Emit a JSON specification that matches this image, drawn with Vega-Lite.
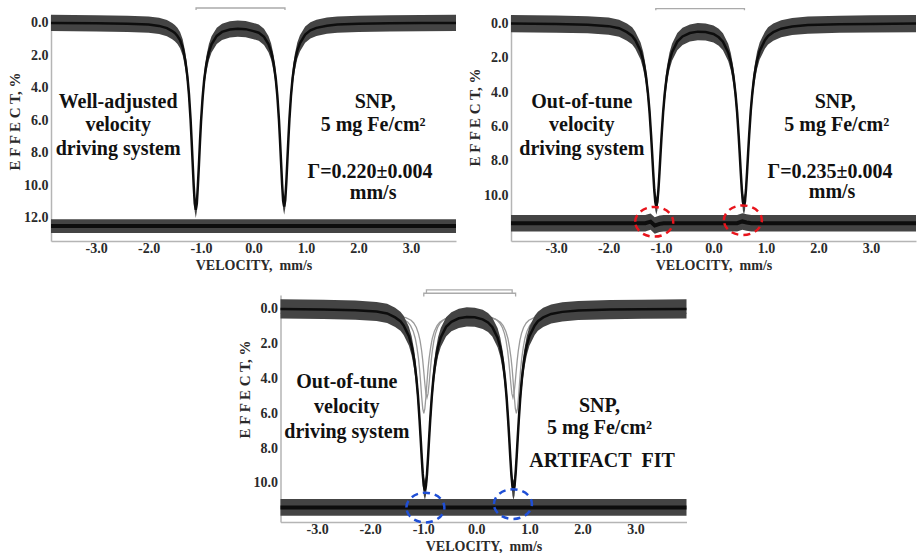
{
"$schema": "https://vega.github.io/schema/vega-lite/v6.json",
"padding": {"left": 7, "top": 5, "right": 0, "bottom": 0},
"background": "white",
"center": true,
"spacing": 15,
"config": {
 "view": {"stroke": null},
 "axis": {"labelFont": "Liberation Serif", "labelFontWeight": "bold", "labelFontSize": 14, "labelColor": "#2a2a2a", "titleFont": "Liberation Serif", "titleFontWeight": "bold", "titleFontSize": 14, "titleColor": "#2a2a2a", "domainColor": "#b5b5b5", "domainWidth": 1.5, "grid": false, "ticks": false, "labelOverlap": false},
 "axisY": {"labelPadding": 3, "titlePadding": 1, "titleFontSize": 15},
 "axisX": {"labelPadding": 0, "titlePadding": 3},
 "text": {"font": "Liberation Serif", "fontWeight": "bold", "fontSize": 20, "color": "#111"}
},
"datasets": {
 "s1": [
{"v":-3.86,"c":0,"lo":-0.5,"hi":0.5},
{"v":-3.0,"c":0.02,"lo":-0.48,"hi":0.52},
{"v":-2.4,"c":0.05,"lo":-0.45,"hi":0.55},
{"v":-2.0,"c":0.1,"lo":-0.4,"hi":0.6},
{"v":-1.8,"c":0.18,"lo":-0.32,"hi":0.68},
{"v":-1.65,"c":0.32,"lo":-0.18,"hi":0.82},
{"v":-1.55,"c":0.5,"lo":0,"hi":1.0},
{"v":-1.5,"c":0.62,"lo":0.12,"hi":1.12},
{"v":-1.45,"c":0.8,"lo":0.3,"hi":1.3},
{"v":-1.4,"c":1.05,"lo":0.55,"hi":1.55},
{"v":-1.35,"c":1.5,"lo":1.0,"hi":2.0},
{"v":-1.3,"c":2.3,"lo":1.8,"hi":2.8},
{"v":-1.26,"c":3.3,"lo":2.8,"hi":3.8},
{"v":-1.23,"c":4.4,"lo":3.9,"hi":4.9},
{"v":-1.2,"c":5.9,"lo":5.4,"hi":6.4},
{"v":-1.18,"c":7.2,"lo":6.7,"hi":7.7},
{"v":-1.16,"c":8.6,"lo":8.1,"hi":9.1},
{"v":-1.14,"c":10.0,"lo":9.5,"hi":10.5},
{"v":-1.12,"c":11.1,"lo":10.6,"hi":11.6},
{"v":-1.1,"c":11.5,"lo":11.0,"hi":12.0},
{"v":-1.08,"c":11.1,"lo":10.6,"hi":11.6},
{"v":-1.06,"c":10.0,"lo":9.5,"hi":10.5},
{"v":-1.04,"c":8.7,"lo":8.2,"hi":9.2},
{"v":-1.02,"c":7.3,"lo":6.8,"hi":7.8},
{"v":-1.0,"c":6.05,"lo":5.55,"hi":6.55},
{"v":-0.97,"c":4.6,"lo":4.1,"hi":5.1},
{"v":-0.94,"c":3.5,"lo":3.0,"hi":4.0},
{"v":-0.9,"c":2.55,"lo":2.05,"hi":3.05},
{"v":-0.85,"c":1.8,"lo":1.3,"hi":2.3},
{"v":-0.8,"c":1.32,"lo":0.82,"hi":1.82},
{"v":-0.7,"c":0.8,"lo":0.3,"hi":1.3},
{"v":-0.6,"c":0.55,"lo":0.05,"hi":1.05},
{"v":-0.45,"c":0.4,"lo":-0.1,"hi":0.9},
{"v":-0.3,"c":0.35,"lo":-0.15,"hi":0.85},
{"v":-0.15,"c":0.38,"lo":-0.12,"hi":0.88},
{"v":0.0,"c":0.5,"lo":0,"hi":1.0},
{"v":0.1,"c":0.6,"lo":0.1,"hi":1.1},
{"v":0.2,"c":0.85,"lo":0.35,"hi":1.35},
{"v":0.285,"c":1.3,"lo":0.8,"hi":1.8},
{"v":0.335,"c":1.75,"lo":1.25,"hi":2.25},
{"v":0.385,"c":2.5,"lo":2.0,"hi":3.0},
{"v":0.425,"c":3.45,"lo":2.95,"hi":3.95},
{"v":0.455,"c":4.5,"lo":4.0,"hi":5.0},
{"v":0.485,"c":5.95,"lo":5.45,"hi":6.45},
{"v":0.505,"c":7.2,"lo":6.7,"hi":7.7},
{"v":0.525,"c":8.55,"lo":8.05,"hi":9.05},
{"v":0.545,"c":9.9,"lo":9.4,"hi":10.4},
{"v":0.565,"c":10.95,"lo":10.45,"hi":11.45},
{"v":0.585,"c":11.3,"lo":10.8,"hi":11.8},
{"v":0.605,"c":10.9,"lo":10.4,"hi":11.4},
{"v":0.625,"c":9.85,"lo":9.35,"hi":10.35},
{"v":0.645,"c":8.5,"lo":8.0,"hi":9.0},
{"v":0.665,"c":7.15,"lo":6.65,"hi":7.65},
{"v":0.685,"c":5.9,"lo":5.4,"hi":6.4},
{"v":0.715,"c":4.45,"lo":3.95,"hi":4.95},
{"v":0.745,"c":3.4,"lo":2.9,"hi":3.9},
{"v":0.785,"c":2.45,"lo":1.95,"hi":2.95},
{"v":0.835,"c":1.7,"lo":1.2,"hi":2.2},
{"v":0.885,"c":1.25,"lo":0.75,"hi":1.75},
{"v":0.985,"c":0.72,"lo":0.22,"hi":1.22},
{"v":1.085,"c":0.45,"lo":-0.05,"hi":0.95},
{"v":1.2,"c":0.3,"lo":-0.2,"hi":0.8},
{"v":1.4,"c":0.17,"lo":-0.33,"hi":0.67},
{"v":1.6,"c":0.1,"lo":-0.4,"hi":0.6},
{"v":2.0,"c":0.05,"lo":-0.45,"hi":0.55},
{"v":2.6,"c":0.02,"lo":-0.48,"hi":0.52},
{"v":3.2,"c":0.01,"lo":-0.49,"hi":0.51},
{"v":3.86,"c":0,"lo":-0.5,"hi":0.5}
 ],
 "s2": [
{"v":-3.86,"c":0,"lo":-0.5,"hi":0.5},
{"v":-3.0,"c":0.03,"lo":-0.47,"hi":0.53},
{"v":-2.4,"c":0.07,"lo":-0.43,"hi":0.57},
{"v":-2.0,"c":0.15,"lo":-0.35,"hi":0.65},
{"v":-1.8,"c":0.27,"lo":-0.23,"hi":0.77},
{"v":-1.65,"c":0.5,"lo":0,"hi":1.0},
{"v":-1.55,"c":0.72,"lo":0.22,"hi":1.22},
{"v":-1.49,"c":0.97,"lo":0.47,"hi":1.47},
{"v":-1.39,"c":1.6,"lo":1.1,"hi":2.1},
{"v":-1.34,"c":2.15,"lo":1.65,"hi":2.65},
{"v":-1.29,"c":3.0,"lo":2.5,"hi":3.5},
{"v":-1.25,"c":4.05,"lo":3.55,"hi":4.55},
{"v":-1.22,"c":5.1,"lo":4.6,"hi":5.6},
{"v":-1.19,"c":6.5,"lo":6.0,"hi":7.0},
{"v":-1.17,"c":7.55,"lo":7.05,"hi":8.05},
{"v":-1.15,"c":8.65,"lo":8.15,"hi":9.15},
{"v":-1.13,"c":9.66,"lo":9.16,"hi":10.16},
{"v":-1.11,"c":10.38,"lo":9.88,"hi":10.88},
{"v":-1.09,"c":10.65,"lo":10.15,"hi":11.15},
{"v":-1.07,"c":10.4,"lo":9.9,"hi":10.9},
{"v":-1.05,"c":9.7,"lo":9.2,"hi":10.2},
{"v":-1.03,"c":8.7,"lo":8.2,"hi":9.2},
{"v":-1.01,"c":7.6,"lo":7.1,"hi":8.1},
{"v":-0.99,"c":6.55,"lo":6.05,"hi":7.05},
{"v":-0.96,"c":5.17,"lo":4.67,"hi":5.67},
{"v":-0.93,"c":4.1,"lo":3.6,"hi":4.6},
{"v":-0.89,"c":3.05,"lo":2.55,"hi":3.55},
{"v":-0.84,"c":2.2,"lo":1.7,"hi":2.7},
{"v":-0.79,"c":1.67,"lo":1.17,"hi":2.17},
{"v":-0.69,"c":1.05,"lo":0.55,"hi":1.55},
{"v":-0.59,"c":0.75,"lo":0.25,"hi":1.25},
{"v":-0.45,"c":0.55,"lo":0.05,"hi":1.05},
{"v":-0.3,"c":0.47,"lo":-0.03,"hi":0.97},
{"v":-0.15,"c":0.49,"lo":-0.01,"hi":0.99},
{"v":0.0,"c":0.61,"lo":0.11,"hi":1.11},
{"v":0.1,"c":0.8,"lo":0.3,"hi":1.3},
{"v":0.18,"c":1.06,"lo":0.56,"hi":1.56},
{"v":0.28,"c":1.68,"lo":1.18,"hi":2.18},
{"v":0.33,"c":2.22,"lo":1.72,"hi":2.72},
{"v":0.38,"c":3.07,"lo":2.57,"hi":3.57},
{"v":0.42,"c":4.11,"lo":3.61,"hi":4.61},
{"v":0.45,"c":5.17,"lo":4.67,"hi":5.67},
{"v":0.48,"c":6.55,"lo":6.05,"hi":7.05},
{"v":0.5,"c":7.6,"lo":7.1,"hi":8.1},
{"v":0.52,"c":8.7,"lo":8.2,"hi":9.2},
{"v":0.54,"c":9.7,"lo":9.2,"hi":10.2},
{"v":0.56,"c":10.4,"lo":9.9,"hi":10.9},
{"v":0.58,"c":10.65,"lo":10.15,"hi":11.15},
{"v":0.6,"c":10.38,"lo":9.88,"hi":10.88},
{"v":0.62,"c":9.66,"lo":9.16,"hi":10.16},
{"v":0.64,"c":8.65,"lo":8.15,"hi":9.15},
{"v":0.66,"c":7.55,"lo":7.05,"hi":8.05},
{"v":0.68,"c":6.5,"lo":6.0,"hi":7.0},
{"v":0.71,"c":5.1,"lo":4.6,"hi":5.6},
{"v":0.74,"c":4.05,"lo":3.55,"hi":4.55},
{"v":0.78,"c":3.0,"lo":2.5,"hi":3.5},
{"v":0.83,"c":2.15,"lo":1.65,"hi":2.65},
{"v":0.88,"c":1.6,"lo":1.1,"hi":2.1},
{"v":0.98,"c":0.97,"lo":0.47,"hi":1.47},
{"v":1.04,"c":0.72,"lo":0.22,"hi":1.22},
{"v":1.14,"c":0.5,"lo":0,"hi":1.0},
{"v":1.29,"c":0.3,"lo":-0.2,"hi":0.8},
{"v":1.5,"c":0.17,"lo":-0.33,"hi":0.67},
{"v":1.8,"c":0.09,"lo":-0.41,"hi":0.59},
{"v":2.4,"c":0.04,"lo":-0.46,"hi":0.54},
{"v":3.0,"c":0.02,"lo":-0.48,"hi":0.52},
{"v":3.86,"c":0,"lo":-0.5,"hi":0.5}
 ],
 "s3": [
{"v":-3.69,"c":0,"lo":-0.55,"hi":0.55},
{"v":-2.88,"c":0.03,"lo":-0.52,"hi":0.58},
{"v":-2.28,"c":0.07,"lo":-0.48,"hi":0.62},
{"v":-1.88,"c":0.15,"lo":-0.4,"hi":0.7},
{"v":-1.68,"c":0.26,"lo":-0.29,"hi":0.81},
{"v":-1.53,"c":0.49,"lo":-0.06,"hi":1.04},
{"v":-1.43,"c":0.71,"lo":0.16,"hi":1.26},
{"v":-1.37,"c":0.95,"lo":0.4,"hi":1.5},
{"v":-1.27,"c":1.57,"lo":1.02,"hi":2.12},
{"v":-1.22,"c":2.11,"lo":1.56,"hi":2.66},
{"v":-1.17,"c":2.94,"lo":2.39,"hi":3.49},
{"v":-1.13,"c":3.97,"lo":3.42,"hi":4.52},
{"v":-1.1,"c":5.0,"lo":4.45,"hi":5.55},
{"v":-1.07,"c":6.37,"lo":5.82,"hi":6.92},
{"v":-1.05,"c":7.4,"lo":6.85,"hi":7.95},
{"v":-1.03,"c":8.48,"lo":7.93,"hi":9.03},
{"v":-1.01,"c":9.47,"lo":8.92,"hi":10.02},
{"v":-0.99,"c":10.17,"lo":9.62,"hi":10.72},
{"v":-0.97,"c":10.44,"lo":9.89,"hi":10.99},
{"v":-0.95,"c":10.19,"lo":9.64,"hi":10.74},
{"v":-0.93,"c":9.51,"lo":8.96,"hi":10.06},
{"v":-0.91,"c":8.53,"lo":7.98,"hi":9.08},
{"v":-0.89,"c":7.45,"lo":6.9,"hi":8.0},
{"v":-0.87,"c":6.42,"lo":5.87,"hi":6.97},
{"v":-0.84,"c":5.07,"lo":4.52,"hi":5.62},
{"v":-0.81,"c":4.02,"lo":3.47,"hi":4.57},
{"v":-0.77,"c":2.99,"lo":2.44,"hi":3.54},
{"v":-0.72,"c":2.16,"lo":1.61,"hi":2.71},
{"v":-0.67,"c":1.64,"lo":1.09,"hi":2.19},
{"v":-0.57,"c":1.03,"lo":0.48,"hi":1.58},
{"v":-0.47,"c":0.74,"lo":0.19,"hi":1.29},
{"v":-0.33,"c":0.54,"lo":-0.01,"hi":1.09},
{"v":-0.18,"c":0.46,"lo":-0.09,"hi":1.01},
{"v":-0.03,"c":0.48,"lo":-0.07,"hi":1.03},
{"v":0.12,"c":0.6,"lo":0.05,"hi":1.15},
{"v":0.22,"c":0.78,"lo":0.23,"hi":1.33},
{"v":0.3,"c":1.04,"lo":0.49,"hi":1.59},
{"v":0.4,"c":1.65,"lo":1.1,"hi":2.2},
{"v":0.45,"c":2.18,"lo":1.63,"hi":2.73},
{"v":0.5,"c":3.01,"lo":2.46,"hi":3.56},
{"v":0.54,"c":4.03,"lo":3.48,"hi":4.58},
{"v":0.57,"c":5.07,"lo":4.52,"hi":5.62},
{"v":0.6,"c":6.42,"lo":5.87,"hi":6.97},
{"v":0.62,"c":7.45,"lo":6.9,"hi":8.0},
{"v":0.64,"c":8.53,"lo":7.98,"hi":9.08},
{"v":0.66,"c":9.51,"lo":8.96,"hi":10.06},
{"v":0.68,"c":10.19,"lo":9.64,"hi":10.74},
{"v":0.7,"c":10.44,"lo":9.89,"hi":10.99},
{"v":0.72,"c":10.17,"lo":9.62,"hi":10.72},
{"v":0.74,"c":9.47,"lo":8.92,"hi":10.02},
{"v":0.76,"c":8.48,"lo":7.93,"hi":9.03},
{"v":0.78,"c":7.4,"lo":6.85,"hi":7.95},
{"v":0.8,"c":6.37,"lo":5.82,"hi":6.92},
{"v":0.83,"c":5.0,"lo":4.45,"hi":5.55},
{"v":0.86,"c":3.97,"lo":3.42,"hi":4.52},
{"v":0.9,"c":2.94,"lo":2.39,"hi":3.49},
{"v":0.95,"c":2.11,"lo":1.56,"hi":2.66},
{"v":1.0,"c":1.57,"lo":1.02,"hi":2.12},
{"v":1.1,"c":0.95,"lo":0.4,"hi":1.5},
{"v":1.16,"c":0.71,"lo":0.16,"hi":1.26},
{"v":1.26,"c":0.49,"lo":-0.06,"hi":1.04},
{"v":1.41,"c":0.29,"lo":-0.26,"hi":0.84},
{"v":1.62,"c":0.17,"lo":-0.38,"hi":0.72},
{"v":1.92,"c":0.09,"lo":-0.46,"hi":0.64},
{"v":2.52,"c":0.04,"lo":-0.51,"hi":0.59},
{"v":3.12,"c":0.02,"lo":-0.53,"hi":0.57},
{"v":3.96,"c":0,"lo":-0.55,"hi":0.55}
 ],
 "r1": [
{"v":-3.86,"c":12.5,"lo":12.08,"hi":12.92},
{"v":3.86,"c":12.5,"lo":12.08,"hi":12.92}
 ],
 "r2": [
{"v":-3.86,"c":11.64,"lo":11.16,"hi":12.12},
{"v":-1.3,"c":11.64,"lo":11.16,"hi":12.12},
{"v":-1.2,"c":11.55,"lo":11.07,"hi":12.03},
{"v":-1.12,"c":11.78,"lo":11.3,"hi":12.26},
{"v":-1.03,"c":11.68,"lo":11.2,"hi":12.16},
{"v":-0.95,"c":11.64,"lo":11.16,"hi":12.12},
{"v":0.45,"c":11.64,"lo":11.16,"hi":12.12},
{"v":0.55,"c":11.54,"lo":11.06,"hi":12.02},
{"v":0.63,"c":11.6,"lo":11.12,"hi":12.08},
{"v":0.72,"c":11.64,"lo":11.16,"hi":12.12},
{"v":3.86,"c":11.64,"lo":11.16,"hi":12.12}
 ],
 "r3": [
{"v":-3.69,"c":11.41,"lo":10.93,"hi":11.89},
{"v":3.96,"c":11.41,"lo":10.93,"hi":11.89}
 ],
 "f3": [
{"k":"A","v":-3.69,"e":0.26},{"k":"A","v":-2.0,"e":0.3},{"k":"A","v":-1.54,"e":0.42},{"k":"A","v":-1.39,"e":0.56},{"k":"A","v":-1.29,"e":0.77},{"k":"A","v":-1.24,"e":0.96},{"k":"A","v":-1.19,"e":1.28},{"k":"A","v":-1.15,"e":1.7},{"k":"A","v":-1.12,"e":2.2},{"k":"A","v":-1.09,"e":2.85},{"k":"A","v":-1.07,"e":3.45},{"k":"A","v":-1.05,"e":4.22},{"k":"A","v":-1.03,"e":5.05},{"k":"A","v":-1.01,"e":5.73},{"k":"A","v":-0.99,"e":6.0},{"k":"A","v":-0.97,"e":5.73},{"k":"A","v":-0.95,"e":5.05},{"k":"A","v":-0.93,"e":4.22},{"k":"A","v":-0.91,"e":3.45},{"k":"A","v":-0.89,"e":2.85},{"k":"A","v":-0.86,"e":2.2},{"k":"A","v":-0.83,"e":1.7},{"k":"A","v":-0.79,"e":1.28},{"k":"A","v":-0.74,"e":0.96},{"k":"A","v":-0.69,"e":0.77},{"k":"A","v":-0.59,"e":0.57},{"k":"A","v":-0.44,"e":0.44},{"k":"A","v":-0.12,"e":0.38},{"k":"A","v":0.205,"e":0.44},{"k":"A","v":0.355,"e":0.57},{"k":"A","v":0.455,"e":0.77},{"k":"A","v":0.505,"e":0.96},{"k":"A","v":0.555,"e":1.28},{"k":"A","v":0.595,"e":1.7},{"k":"A","v":0.625,"e":2.2},{"k":"A","v":0.655,"e":2.85},{"k":"A","v":0.675,"e":3.45},{"k":"A","v":0.695,"e":4.22},{"k":"A","v":0.715,"e":5.05},{"k":"A","v":0.735,"e":5.73},{"k":"A","v":0.755,"e":6.0},{"k":"A","v":0.775,"e":5.73},{"k":"A","v":0.795,"e":5.05},{"k":"A","v":0.815,"e":4.22},{"k":"A","v":0.835,"e":3.45},{"k":"A","v":0.855,"e":2.85},{"k":"A","v":0.885,"e":2.2},{"k":"A","v":0.915,"e":1.7},{"k":"A","v":0.955,"e":1.28},{"k":"A","v":1.005,"e":0.96},{"k":"A","v":1.055,"e":0.77},{"k":"A","v":1.155,"e":0.56},{"k":"A","v":1.305,"e":0.42},{"k":"A","v":1.8,"e":0.3},{"k":"A","v":3.96,"e":0.26},
{"k":"B","v":-3.69,"e":0.26},{"k":"B","v":-2.0,"e":0.29},{"k":"B","v":-1.48,"e":0.4},{"k":"B","v":-1.33,"e":0.5},{"k":"B","v":-1.23,"e":0.65},{"k":"B","v":-1.18,"e":0.81},{"k":"B","v":-1.13,"e":1.07},{"k":"B","v":-1.09,"e":1.42},{"k":"B","v":-1.06,"e":1.82},{"k":"B","v":-1.03,"e":2.42},{"k":"B","v":-1.01,"e":2.96},{"k":"B","v":-0.99,"e":3.61},{"k":"B","v":-0.97,"e":4.3},{"k":"B","v":-0.95,"e":4.87},{"k":"B","v":-0.93,"e":5.1},{"k":"B","v":-0.91,"e":4.87},{"k":"B","v":-0.89,"e":4.3},{"k":"B","v":-0.87,"e":3.61},{"k":"B","v":-0.85,"e":2.96},{"k":"B","v":-0.83,"e":2.42},{"k":"B","v":-0.8,"e":1.82},{"k":"B","v":-0.77,"e":1.42},{"k":"B","v":-0.73,"e":1.07},{"k":"B","v":-0.68,"e":0.81},{"k":"B","v":-0.63,"e":0.65},{"k":"B","v":-0.53,"e":0.5},{"k":"B","v":-0.38,"e":0.41},{"k":"B","v":-0.12,"e":0.37},{"k":"B","v":0.14,"e":0.41},{"k":"B","v":0.29,"e":0.5},{"k":"B","v":0.39,"e":0.65},{"k":"B","v":0.44,"e":0.81},{"k":"B","v":0.49,"e":1.07},{"k":"B","v":0.53,"e":1.42},{"k":"B","v":0.56,"e":1.82},{"k":"B","v":0.59,"e":2.42},{"k":"B","v":0.61,"e":2.96},{"k":"B","v":0.63,"e":3.61},{"k":"B","v":0.65,"e":4.3},{"k":"B","v":0.67,"e":4.87},{"k":"B","v":0.69,"e":5.1},{"k":"B","v":0.71,"e":4.87},{"k":"B","v":0.73,"e":4.3},{"k":"B","v":0.75,"e":3.61},{"k":"B","v":0.77,"e":2.96},{"k":"B","v":0.79,"e":2.42},{"k":"B","v":0.82,"e":1.82},{"k":"B","v":0.85,"e":1.42},{"k":"B","v":0.89,"e":1.07},{"k":"B","v":0.94,"e":0.81},{"k":"B","v":0.99,"e":0.65},{"k":"B","v":1.09,"e":0.5},{"k":"B","v":1.24,"e":0.4},{"k":"B","v":1.8,"e":0.29},{"k":"B","v":3.96,"e":0.26}
 ],
 "br1": [{"b":"A","o":1,"v":-1.095,"e":-0.8},{"b":"A","o":2,"v":-1.095,"e":-0.92},{"b":"A","o":3,"v":0.6,"e":-0.92},{"b":"A","o":4,"v":0.6,"e":-0.8}],
 "br2": [{"b":"A","o":1,"v":-1.1,"e":-0.78},{"b":"A","o":2,"v":-1.1,"e":-0.87},{"b":"A","o":3,"v":0.59,"e":-0.87},{"b":"A","o":4,"v":0.59,"e":-0.78}],
 "br3": [{"b":"A","o":1,"v":-0.99,"e":-0.71},{"b":"A","o":2,"v":-0.99,"e":-0.9},{"b":"A","o":3,"v":0.74,"e":-0.9},{"b":"A","o":4,"v":0.74,"e":-0.71},
         {"b":"B","o":1,"v":-0.94,"e":-0.92},{"b":"B","o":2,"v":-0.94,"e":-1.09},{"b":"B","o":3,"v":0.675,"e":-1.09},{"b":"B","o":4,"v":0.675,"e":-0.92}],
 "n1": [{"v":-2.58,"e":4.86,"t":"Well-adjusted"},{"v":-2.58,"e":6.3,"t":"velocity"},{"v":-2.58,"e":7.73,"t":"driving system"},{"v":2.32,"e":4.86,"t":"SNP,"},{"v":2.28,"e":6.3,"t":"5 mg Fe/cm²"},{"v":2.22,"e":9.17,"t":"Γ=0.220±0.004"},{"v":2.28,"e":10.45,"t":"mm/s"}],
 "n2": [{"v":-2.51,"e":4.57,"t":"Out-of-tune"},{"v":-2.51,"e":5.93,"t":"velocity"},{"v":-2.51,"e":7.29,"t":"driving system"},{"v":2.32,"e":4.57,"t":"SNP,"},{"v":2.35,"e":5.93,"t":"5 mg Fe/cm²"},{"v":2.22,"e":8.65,"t":"Γ=0.235±0.004"},{"v":2.26,"e":9.85,"t":"mm/s"}],
 "n3": [{"v":-2.44,"e":4.2,"t":"Out-of-tune"},{"v":-2.44,"e":5.63,"t":"velocity"},{"v":-2.44,"e":7.07,"t":"driving system"},{"v":2.32,"e":5.57,"t":"SNP,"},{"v":2.32,"e":6.82,"t":"5 mg Fe/cm²"},{"v":2.37,"e":8.74,"t":"ARTIFACT\u00a0 FIT"}],
 "e2": [{"v":-1.13,"e":11.56},{"v":0.56,"e":11.47}],
 "e3": [{"v":-0.96,"e":11.42},{"v":0.69,"e":11.22}]
},
"vconcat": [
 {"hconcat": [
  {"width": 405, "height": 226, "layer": [
   {"data": {"name": "s1"}, "mark": {"type": "area", "color": "#444444"}, "encoding": {
     "x": {"field": "v", "type": "quantitative", "scale": {"domain": [-3.86, 3.86], "nice": false, "zero": false}, "axis": {"values": [-3,-2,-1,0,1,2,3], "tickCount": 20, "format": ".1f", "labelExpr": "replace(datum.label, '\u2212', '-')", "title": "VELOCITY,\u00a0 mm/s", "labelOverlap": false}},
     "y": {"field": "lo", "type": "quantitative", "scale": {"domain": [-0.49, 13.42], "reverse": true, "nice": false, "zero": false}, "axis": {"values": [0,2,4,6,8,10,12], "tickCount": 20, "format": ".1f", "title": "E F F E C T, %", "titleY": 106, "labelOverlap": false}},
     "y2": {"field": "hi"}}},
   {"data": {"name": "s1"}, "mark": {"type": "line", "color": "#0d0d0d", "strokeWidth": 2.5}, "encoding": {"x": {"field": "v", "type": "quantitative"}, "y": {"field": "c", "type": "quantitative"}}},
   {"data": {"name": "r1"}, "mark": {"type": "area", "color": "#444444"}, "encoding": {"x": {"field": "v", "type": "quantitative"}, "y": {"field": "lo", "type": "quantitative"}, "y2": {"field": "hi"}}},
   {"data": {"name": "r1"}, "mark": {"type": "line", "color": "#0d0d0d", "strokeWidth": 4}, "encoding": {"x": {"field": "v", "type": "quantitative"}, "y": {"field": "c", "type": "quantitative"}}},
   {"data": {"name": "br1"}, "mark": {"type": "line", "color": "#aaaaaa", "strokeWidth": 1.3}, "encoding": {"x": {"field": "v", "type": "quantitative"}, "y": {"field": "e", "type": "quantitative"}, "order": {"field": "o"}, "detail": {"field": "b"}}},
   {"data": {"name": "n1"}, "mark": {"type": "text", "baseline": "middle"}, "encoding": {"x": {"field": "v", "type": "quantitative"}, "y": {"field": "e", "type": "quantitative"}, "text": {"field": "t"}}}
  ]},
  {"width": 405, "height": 226, "layer": [
   {"data": {"name": "s2"}, "mark": {"type": "area", "color": "#444444"}, "encoding": {
     "x": {"field": "v", "type": "quantitative", "scale": {"domain": [-3.86, 3.86], "nice": false, "zero": false}, "axis": {"values": [-3,-2,-1,0,1,2,3], "tickCount": 20, "format": ".1f", "labelExpr": "replace(datum.label, '\u2212', '-')", "title": "VELOCITY,\u00a0 mm/s", "labelOverlap": false}},
     "y": {"field": "lo", "type": "quantitative", "scale": {"domain": [-0.5, 12.68], "reverse": true, "nice": false, "zero": false}, "axis": {"values": [0,2,4,6,8,10], "tickCount": 20, "format": ".1f", "title": "E F F E C T, %", "titleY": 102, "labelOverlap": false}},
     "y2": {"field": "hi"}}},
   {"data": {"name": "s2"}, "mark": {"type": "line", "color": "#0d0d0d", "strokeWidth": 2.5}, "encoding": {"x": {"field": "v", "type": "quantitative"}, "y": {"field": "c", "type": "quantitative"}}},
   {"data": {"name": "r2"}, "mark": {"type": "area", "color": "#444444"}, "encoding": {"x": {"field": "v", "type": "quantitative"}, "y": {"field": "lo", "type": "quantitative"}, "y2": {"field": "hi"}}},
   {"data": {"name": "r2"}, "mark": {"type": "line", "color": "#0d0d0d", "strokeWidth": 4}, "encoding": {"x": {"field": "v", "type": "quantitative"}, "y": {"field": "c", "type": "quantitative"}}},
   {"data": {"name": "br2"}, "mark": {"type": "line", "color": "#aaaaaa", "strokeWidth": 1.3}, "encoding": {"x": {"field": "v", "type": "quantitative"}, "y": {"field": "e", "type": "quantitative"}, "order": {"field": "o"}, "detail": {"field": "b"}}},
   {"data": {"name": "e2"}, "mark": {"type": "point", "shape": "M-1,0A1,0.78,0,1,1,1,0A1,0.78,0,1,1,-1,0Z", "size": 1444, "filled": false, "stroke": "#e8141c", "strokeWidth": 2.5, "strokeDash": [7, 5], "opacity": 1}, "encoding": {"x": {"field": "v", "type": "quantitative"}, "y": {"field": "e", "type": "quantitative"}}},
   {"data": {"name": "n2"}, "mark": {"type": "text", "baseline": "middle"}, "encoding": {"x": {"field": "v", "type": "quantitative"}, "y": {"field": "e", "type": "quantitative"}, "text": {"field": "t"}}}
  ]}
 ], "spacing": 3},
 {"width": 406, "height": 227, "layer": [
   {"data": {"name": "f3"}, "mark": {"type": "line", "color": "#9a9a9a", "strokeWidth": 1.3}, "encoding": {
     "x": {"field": "v", "type": "quantitative", "scale": {"domain": [-3.69, 3.96], "nice": false, "zero": false}, "axis": {"values": [-3,-2,-1,0,1,2,3], "tickCount": 20, "format": ".1f", "labelExpr": "replace(datum.label, '\u2212', '-')", "title": "VELOCITY,\u00a0 mm/s", "labelOverlap": false}},
     "y": {"field": "e", "type": "quantitative", "scale": {"domain": [-0.8, 12.25], "reverse": true, "nice": false, "zero": false}, "axis": {"values": [0,2,4,6,8,10], "tickCount": 20, "format": ".1f", "title": "E F F E C T, %", "titleY": 94, "labelOverlap": false}},
     "detail": {"field": "k"}}},
   {"data": {"name": "s3"}, "mark": {"type": "area", "color": "#444444"}, "encoding": {"x": {"field": "v", "type": "quantitative"}, "y": {"field": "lo", "type": "quantitative"}, "y2": {"field": "hi"}}},
   {"data": {"name": "s3"}, "mark": {"type": "line", "color": "#0d0d0d", "strokeWidth": 2.5}, "encoding": {"x": {"field": "v", "type": "quantitative"}, "y": {"field": "c", "type": "quantitative"}}},
   {"data": {"name": "r3"}, "mark": {"type": "area", "color": "#444444"}, "encoding": {"x": {"field": "v", "type": "quantitative"}, "y": {"field": "lo", "type": "quantitative"}, "y2": {"field": "hi"}}},
   {"data": {"name": "r3"}, "mark": {"type": "line", "color": "#0d0d0d", "strokeWidth": 4}, "encoding": {"x": {"field": "v", "type": "quantitative"}, "y": {"field": "c", "type": "quantitative"}}},
   {"data": {"name": "br3"}, "mark": {"type": "line", "color": "#aaaaaa", "strokeWidth": 1.3}, "encoding": {"x": {"field": "v", "type": "quantitative"}, "y": {"field": "e", "type": "quantitative"}, "order": {"field": "o"}, "detail": {"field": "b"}}},
   {"data": {"name": "e3"}, "mark": {"type": "point", "shape": "M-1,0A1,0.78,0,1,1,1,0A1,0.78,0,1,1,-1,0Z", "size": 1444, "filled": false, "stroke": "#1f4fd6", "strokeWidth": 2.5, "strokeDash": [7, 5], "opacity": 1}, "encoding": {"x": {"field": "v", "type": "quantitative"}, "y": {"field": "e", "type": "quantitative"}}},
   {"data": {"name": "n3"}, "mark": {"type": "text", "baseline": "middle"}, "encoding": {"x": {"field": "v", "type": "quantitative"}, "y": {"field": "e", "type": "quantitative"}, "text": {"field": "t"}}}
 ]}
]
}
